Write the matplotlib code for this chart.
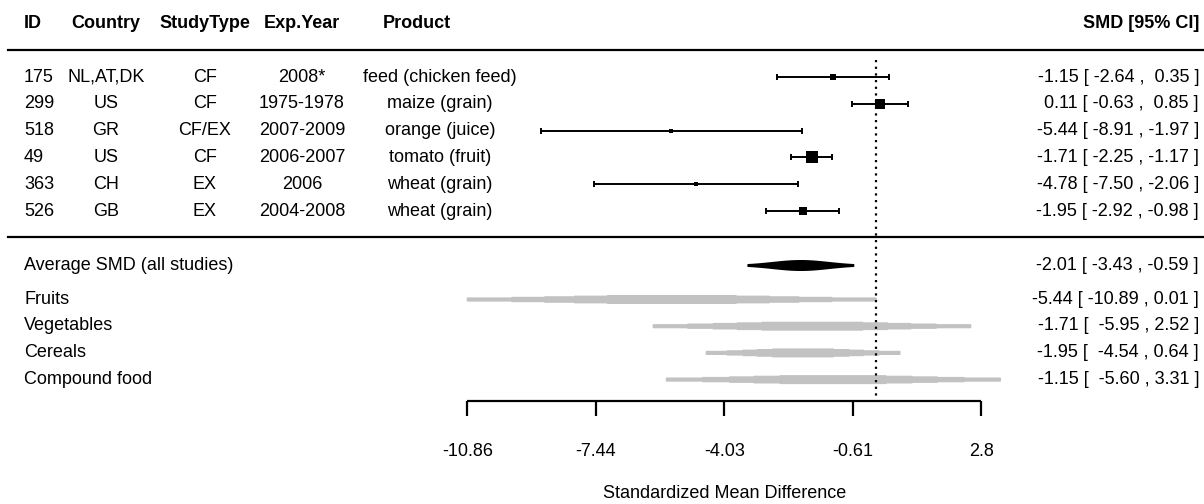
import numpy as np
import matplotlib
matplotlib.use("Agg")
import matplotlib.pyplot as plt
from matplotlib.transforms import blended_transform_factory

plt.rcParams['font.family'] = ['Liberation Sans', 'DejaVu Sans']

# study table
ids = ["175", "299", "518", "49", "363", "526"]
countries = ["NL,AT,DK", "US", "GR", "US", "CH", "GB"]
study_types = ["CF", "CF", "CF/EX", "CF", "EX", "EX"]
exp_years = ["2008*", "1975-1978", "2007-2009", "2006-2007", "2006", "2004-2008"]
products = ["feed (chicken feed)", "maize (grain)", "orange (juice)",
            "tomato (fruit)", "wheat (grain)", "wheat (grain)"]
smd = [-1.15, 0.11, -5.44, -1.71, -4.78, -1.95]
ci_lo = [-2.64, -0.63, -8.91, -2.25, -7.50, -2.92]
ci_hi = [0.35, 0.85, -1.97, -1.17, -2.06, -0.98]

# overall estimate
avg_label = "Average SMD (all studies)"
avg_smd, avg_lo, avg_hi = -2.01, -3.43, -0.59

# subgroups
groups = ["Fruits", "Vegetables", "Cereals", "Compound food"]
grp_smd = [-5.44, -1.71, -1.95, -1.15]
grp_lo = [-10.89, -5.95, -4.54, -5.60]
grp_hi = [0.01, 2.52, 0.64, 3.31]

ticks = [-10.86, -7.44, -4.03, -0.61, 2.8]

W, H = 1204, 504
FS = 13
x0px, pxu = 876, 37.63   # pixel of SMD=0, pixels per unit

fig = plt.figure(figsize=(W / 100, H / 100), dpi=100)
ax = fig.add_axes([0, 0, 1, 1])
ax.set_xlim(-x0px / pxu, (W - x0px) / pxu)
ax.set_ylim(H, 0)
ax.axis('off')
tr = blended_transform_factory(ax.transAxes, ax.transData)


def col(px):
    return px / W


def ci_strings(est, lo, hi):
    e = ["{:.2f}".format(v) for v in est]
    l = ["{:.2f}".format(v) for v in lo]
    h = ["{:.2f}".format(v) for v in hi]
    wl = max(len(s) for s in l)
    wh = max(len(s) for s in h)
    return ["%s [ %s , %s ]" % (a, b.rjust(wl), c.rjust(wh)) for a, b, c in zip(e, l, h)]


def blob(est, lo, hi, y, half, color, steps=None, base=0.0):
    xs = np.linspace(lo, hi, 400)
    sd = np.where(xs < est, (est - lo) / 1.9, (hi - est) / 1.9)
    g = np.exp(-0.5 * ((xs - est) / sd) ** 2)
    if steps:
        g = np.ceil(g * steps) / steps
    hh = half * (base + (1 - base) * g)
    ax.fill_between(xs, y - hh, y + hh, color=color, lw=0)


# header
hy = 23
ax.text(col(24), hy, "ID", transform=tr, ha='left', va='center', fontsize=FS, fontweight='bold')
ax.text(col(106), hy, "Country", transform=tr, ha='center', va='center', fontsize=FS, fontweight='bold')
ax.text(col(205), hy, "StudyType", transform=tr, ha='center', va='center', fontsize=FS, fontweight='bold')
ax.text(col(302), hy, "Exp.Year", transform=tr, ha='center', va='center', fontsize=FS, fontweight='bold')
ax.text(col(417), hy, "Product", transform=tr, ha='center', va='center', fontsize=FS, fontweight='bold')
ax.text(col(1199), hy, "SMD [95% CI]", transform=tr, ha='right', va='center', fontsize=FS, fontweight='bold')

ax.plot([col(8), 1], [50, 50], transform=tr, color='black', lw=1.6)
ax.plot([col(8), 1], [237, 237], transform=tr, color='black', lw=1.6)

# reference line at 0
ax.plot([0, 0], [60, 398], color='black', lw=1.6, ls=(0, (1, 2)))

# studies
row_gap = 26.8
sizes = []
for lo, hi in zip(ci_lo, ci_hi):
    w = 1 / ((hi - lo) / 3.92) ** 2
    sizes.append(2.8 + 2.5 * np.sqrt(w))

study_txt = ci_strings(smd, ci_lo, ci_hi)
for i in range(len(ids)):
    y = 77 + i * row_gap
    ax.text(col(24), y, ids[i], transform=tr, ha='left', va='center', fontsize=FS)
    ax.text(col(106), y, countries[i], transform=tr, ha='center', va='center', fontsize=FS)
    ax.text(col(205), y, study_types[i], transform=tr, ha='center', va='center', fontsize=FS)
    ax.text(col(302), y, exp_years[i], transform=tr, ha='center', va='center', fontsize=FS)
    ax.text(col(440), y, products[i], transform=tr, ha='center', va='center', fontsize=FS)
    ax.text(col(1199), y, study_txt[i], transform=tr, ha='right', va='center', fontsize=FS)
    ax.errorbar([smd[i]], [y], xerr=[[smd[i] - ci_lo[i]], [ci_hi[i] - smd[i]]],
                fmt='none', ecolor='black', elinewidth=1.4, capsize=2.5, capthick=1.4)
    ax.plot(smd[i], y, marker='s', color='black', markersize=sizes[i] * 0.72, mew=0)

# overall
ya = 265
ax.text(col(24), ya, avg_label, transform=tr, ha='left', va='center', fontsize=FS)
ax.text(col(1199), ya, ci_strings([avg_smd], [avg_lo], [avg_hi])[0], transform=tr,
        ha='right', va='center', fontsize=FS)
blob(avg_smd, avg_lo, avg_hi, ya, 5.5, 'black', base=0.12)

# subgroups
grp_txt = ci_strings(grp_smd, grp_lo, grp_hi)
for i, g in enumerate(groups):
    y = 299 + i * 26.7
    ax.text(col(24), y, g, transform=tr, ha='left', va='center', fontsize=FS)
    ax.text(col(1199), y, grp_txt[i], transform=tr, ha='right', va='center', fontsize=FS)
    blob(grp_smd[i], grp_lo[i], grp_hi[i], y, 4.5, '#c2c2c2', steps=6, base=0.2)

# x axis
ay = 401
ax.plot([ticks[0], ticks[-1]], [ay, ay], color='black', lw=1.6, solid_capstyle='butt')
for t in ticks:
    ax.plot([t, t], [ay, ay + 15], color='black', lw=1.6, solid_capstyle='butt')
    ax.text(t, 451, str(t), ha='center', va='center', fontsize=FS)
ax.text(np.mean([ticks[0], ticks[-1]]), 493, "Standardized Mean Difference",
        ha='center', va='center', fontsize=FS)

fig.savefig("out.png", dpi=100)
